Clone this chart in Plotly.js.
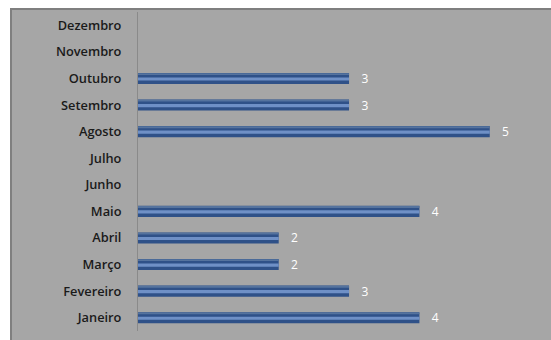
<!DOCTYPE html>
<html><head><meta charset="utf-8">
<script src="https://cdn.plot.ly/plotly-3.0.1.min.js"></script>
<style>
html,body{margin:0;padding:0;background:#fff;width:551px;height:340px;overflow:hidden;}
#bg{position:absolute;left:10px;top:8px;width:541px;height:332px;background:#a6a6a6;border-top:2px solid #7f7f7f;border-left:2px solid #7f7f7f;box-sizing:border-box;}
#chart{position:absolute;left:0;top:0;width:551px;height:340px;}
</style></head>
<body>
<div id="bg"></div>
<div id="chart"></div>
<script>
const months = ["Janeiro","Fevereiro","Março","Abril","Maio","Junho","Julho","Agosto","Setembro","Outubro","Novembro","Dezembro"];
const counts = [4,3,2,2,4,null,null,5,3,3,null,null];

const font = "'Open Sans', 'DejaVu Sans', sans-serif";
const traces = [
  {type:'bar', orientation:'h', y:months, x:counts, width:0.42,
   marker:{color:'#2f5188', line:{width:0}},
   text:counts.map(v=>v==null?'':'   '+v), textposition:'outside', cliponaxis:false,
   constraintext:'none',
   textfont:{color:'#ffffff', size:12, family:font}, hoverinfo:'skip'},
  {type:'bar', orientation:'h', y:months, x:counts, width:0.12, offset:-0.08,
   marker:{color:'#6f90c6', line:{width:0}}, hoverinfo:'skip'},
  {type:'bar', orientation:'h', y:months, x:counts, width:0.07, offset:0.13,
   marker:{color:'#55739e', line:{width:0}}, hoverinfo:'skip'}
];
const layout = {
  width:551, height:340,
  margin:{l:138, r:12, t:12, b:9},
  paper_bgcolor:'rgba(0,0,0,0)', plot_bgcolor:'rgba(0,0,0,0)',
  barmode:'overlay', showlegend:false,
  xaxis:{range:[0,5.7], visible:false, showgrid:false, zeroline:false},
  yaxis:{type:'category', categoryorder:'array', categoryarray:months, range:[-0.5,11.5],
    showline:true, linecolor:'#8a8a8a', linewidth:1, showgrid:false, zeroline:false,
    ticks:'', ticklabelstandoff:13,
    tickfont:{family:font, size:12.8, color:'#1a1a1a', weight:600}},
};
Plotly.newPlot('chart', traces, layout, {staticPlot:true, displayModeBar:false});
</script>
</body></html>
